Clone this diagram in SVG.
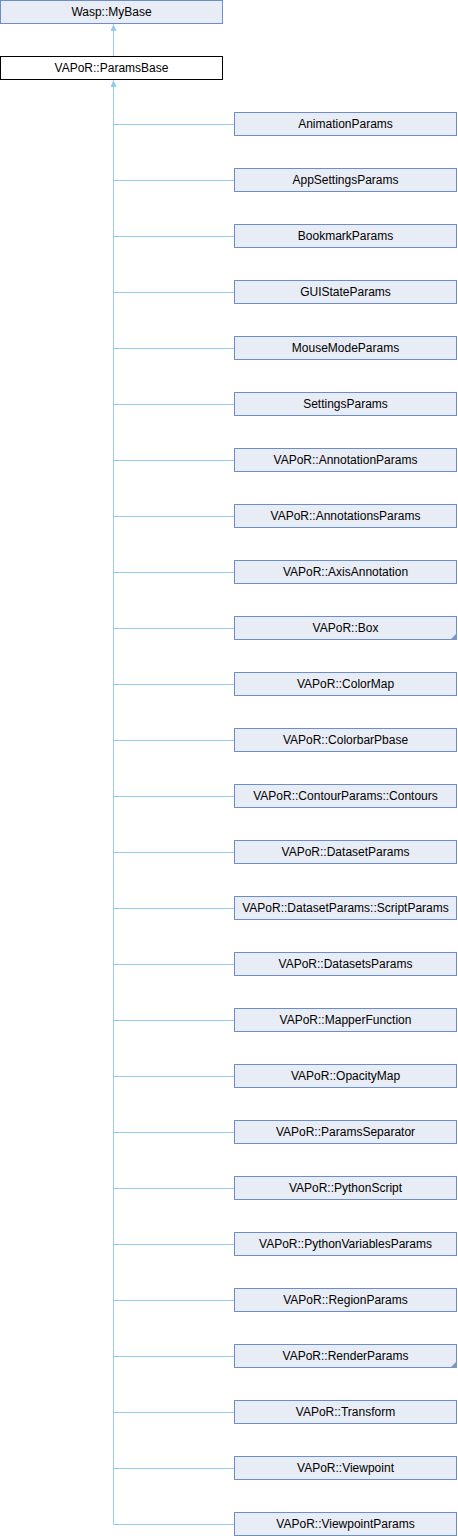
<svg xmlns="http://www.w3.org/2000/svg" width="458" height="1536" viewBox="0 0 458 1536">
<defs>
<style>
.n rect{fill:#E8ECF5;stroke:#6C8EC8;stroke-width:1}
.b rect{fill:#FFFFFF;stroke:#000000;stroke-width:1}
text{font-family:"Liberation Sans",Arial,sans-serif;font-size:12px;fill:#000;text-anchor:middle}
.e{stroke:#93CBEC;stroke-width:1;fill:none}
.c{fill:#7C95C6}
</style>
<marker id="ah" viewBox="0 0 6 7" refX="3" refY="0" markerWidth="6" markerHeight="7" markerUnits="userSpaceOnUse" orient="0">
<path d="M3,0 L6,7 L0,7 Z" fill="#93CBEC"/>
</marker>
</defs>
<g id="connectors">
<line class="e" x1="113.5" y1="24" x2="113.5" y2="56" marker-start="url(#ah)"/>
<path class="e" d="M113.5,80 V1524.5 H234" marker-start="url(#ah)"/>
<path class="e" d="M113.5,124.5H234M113.5,180.5H234M113.5,236.5H234M113.5,292.5H234M113.5,348.5H234M113.5,404.5H234M113.5,460.5H234M113.5,516.5H234M113.5,572.5H234M113.5,628.5H234M113.5,684.5H234M113.5,740.5H234M113.5,796.5H234M113.5,852.5H234M113.5,908.5H234M113.5,964.5H234M113.5,1020.5H234M113.5,1076.5H234M113.5,1132.5H234M113.5,1188.5H234M113.5,1244.5H234M113.5,1300.5H234M113.5,1356.5H234M113.5,1412.5H234M113.5,1468.5H234"/>
</g>
<g id="Wasp_MyBase" class="n"><rect x="0.5" y="0.5" width="222" height="23"/><text x="111.5" y="16">Wasp::MyBase</text></g>
<g id="ParamsBase" class="b"><rect x="0.5" y="56.5" width="222" height="23"/><text x="111.5" y="72">VAPoR::ParamsBase</text></g>
<g id="AnimationParams" class="n"><rect x="234.5" y="112.5" width="222" height="23"/><text x="345.5" y="128">AnimationParams</text></g>
<g id="AppSettingsParams" class="n"><rect x="234.5" y="168.5" width="222" height="23"/><text x="345.5" y="184">AppSettingsParams</text></g>
<g id="BookmarkParams" class="n"><rect x="234.5" y="224.5" width="222" height="23"/><text x="345.5" y="240">BookmarkParams</text></g>
<g id="GUIStateParams" class="n"><rect x="234.5" y="280.5" width="222" height="23"/><text x="345.5" y="296">GUIStateParams</text></g>
<g id="MouseModeParams" class="n"><rect x="234.5" y="336.5" width="222" height="23"/><text x="345.5" y="352">MouseModeParams</text></g>
<g id="SettingsParams" class="n"><rect x="234.5" y="392.5" width="222" height="23"/><text x="345.5" y="408">SettingsParams</text></g>
<g id="AnnotationParams" class="n"><rect x="234.5" y="448.5" width="222" height="23"/><text x="345.5" y="464">VAPoR::AnnotationParams</text></g>
<g id="AnnotationsParams" class="n"><rect x="234.5" y="504.5" width="222" height="23"/><text x="345.5" y="520">VAPoR::AnnotationsParams</text></g>
<g id="AxisAnnotation" class="n"><rect x="234.5" y="560.5" width="222" height="23"/><text x="345.5" y="576">VAPoR::AxisAnnotation</text></g>
<g id="Box" class="n"><rect x="234.5" y="616.5" width="222" height="23"/><text x="345.5" y="632">VAPoR::Box</text><path class="c" d="M457,633 L457,640 L450,640 Z"/></g>
<g id="ColorMap" class="n"><rect x="234.5" y="672.5" width="222" height="23"/><text x="345.5" y="688">VAPoR::ColorMap</text></g>
<g id="ColorbarPbase" class="n"><rect x="234.5" y="728.5" width="222" height="23"/><text x="345.5" y="744">VAPoR::ColorbarPbase</text></g>
<g id="Contours" class="n"><rect x="234.5" y="784.5" width="222" height="23"/><text x="345.5" y="800">VAPoR::ContourParams::Contours</text></g>
<g id="DatasetParams" class="n"><rect x="234.5" y="840.5" width="222" height="23"/><text x="345.5" y="856">VAPoR::DatasetParams</text></g>
<g id="ScriptParams" class="n"><rect x="234.5" y="896.5" width="222" height="23"/><text x="345.5" y="912">VAPoR::DatasetParams::ScriptParams</text></g>
<g id="DatasetsParams" class="n"><rect x="234.5" y="952.5" width="222" height="23"/><text x="345.5" y="968">VAPoR::DatasetsParams</text></g>
<g id="MapperFunction" class="n"><rect x="234.5" y="1008.5" width="222" height="23"/><text x="345.5" y="1024">VAPoR::MapperFunction</text></g>
<g id="OpacityMap" class="n"><rect x="234.5" y="1064.5" width="222" height="23"/><text x="345.5" y="1080">VAPoR::OpacityMap</text></g>
<g id="ParamsSeparator" class="n"><rect x="234.5" y="1120.5" width="222" height="23"/><text x="345.5" y="1136">VAPoR::ParamsSeparator</text></g>
<g id="PythonScript" class="n"><rect x="234.5" y="1176.5" width="222" height="23"/><text x="345.5" y="1192">VAPoR::PythonScript</text></g>
<g id="PythonVariablesParams" class="n"><rect x="234.5" y="1232.5" width="222" height="23"/><text x="345.5" y="1248">VAPoR::PythonVariablesParams</text></g>
<g id="RegionParams" class="n"><rect x="234.5" y="1288.5" width="222" height="23"/><text x="345.5" y="1304">VAPoR::RegionParams</text></g>
<g id="RenderParams" class="n"><rect x="234.5" y="1344.5" width="222" height="23"/><text x="345.5" y="1360">VAPoR::RenderParams</text><path class="c" d="M457,1361 L457,1368 L450,1368 Z"/></g>
<g id="Transform" class="n"><rect x="234.5" y="1400.5" width="222" height="23"/><text x="345.5" y="1416">VAPoR::Transform</text></g>
<g id="Viewpoint" class="n"><rect x="234.5" y="1456.5" width="222" height="23"/><text x="345.5" y="1472">VAPoR::Viewpoint</text></g>
<g id="ViewpointParams" class="n"><rect x="234.5" y="1512.5" width="222" height="23"/><text x="345.5" y="1528">VAPoR::ViewpointParams</text></g>
</svg>
